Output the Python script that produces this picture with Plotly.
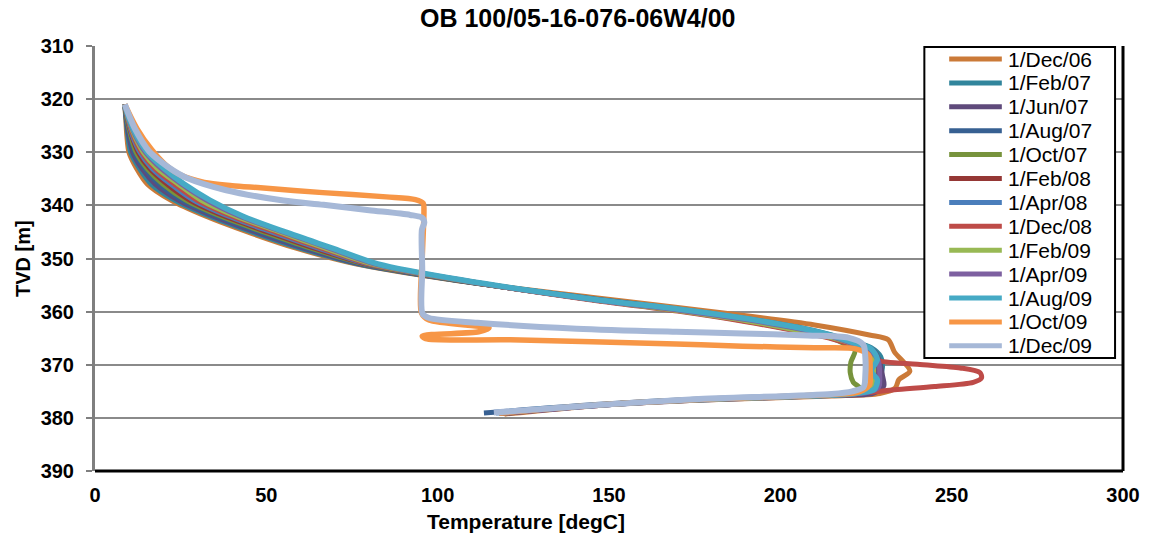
import plotly.graph_objects as go

# ---------------- data: temperature [degC] vs TVD [m] per survey ----------------
dates = ["1/Dec/06", "1/Feb/07", "1/Jun/07", "1/Aug/07", "1/Oct/07", "1/Feb/08",
         "1/Apr/08", "1/Dec/08", "1/Feb/09", "1/Apr/09", "1/Aug/09", "1/Oct/09", "1/Dec/09"]
colors = ["#CB7A38", "#31859C", "#5F4A7B", "#376092", "#77933C", "#953735",
          "#4A7EBB", "#BE4B48", "#98B954", "#7D60A0", "#46AAC5", "#F79646", "#A6B8D7"]
widths = [5, 5, 5, 5, 5, 5, 5, 5, 5, 5, 5.5, 5.5, 6]

dec06_t = [8.7, 9.0, 9.3, 9.9, 12.1, 15.3, 22.1, 32.2, 44.5, 58.4, 76.0, 104.0,
           146.0, 184.0, 210.0, 226.0, 231.5, 233.3, 237.8, 234.6, 233.5, 229.0,
           215.0, 175.0, 146.0, 119.5]
dec06_d = [321, 324, 327, 330, 333, 336, 339, 342, 345, 348, 351, 354,
           357.4, 360.3, 362.5, 364.4, 365.3, 367.6, 371.2, 372.8, 374.4, 375.4,
           375.9, 376.7, 377.7, 379.3]

feb07_t = [8.7, 9.1, 9.6, 10.4, 12.9, 16.4, 23.2, 33.3, 45.7, 59.5, 76.6, 104.3,
           146.0, 170.0, 190.0, 205.0, 215.0, 221.0, 226.5, 229.3, 229.8, 229.0, 228.5, 225.0,
           215.0, 175.0, 146.0, 118.5]
feb07_d = [321, 324, 327, 330, 333, 336, 339, 342, 345, 348, 351, 354,
           357.6, 359.5, 361.3, 362.9, 364.4, 365.6, 366.8, 368.5, 370.5, 372.5, 374.3, 375.2,
           375.7, 376.6, 377.6, 379.1]

jun07_t = [8.7, 9.2, 9.9, 11.0, 13.6, 17.6, 24.3, 34.4, 46.8, 60.6, 77.2, 104.6,
           146.0, 170.0, 190.0, 205.0, 215.0, 221.0, 227.0, 229.0, 229.8, 230.2, 227.0,
           215.0, 175.0, 146.0, 119.0]
jun07_d = [321, 324, 327, 330, 333, 336, 339, 342, 345, 348, 351, 354,
           357.7, 359.6, 361.5, 363.1, 364.6, 365.8, 367.2, 369.5, 372.0, 374.0, 375.4,
           375.8, 376.7, 377.7, 379.2]

aug07_t = [8.7, 9.3, 10.2, 11.5, 14.4, 18.7, 25.4, 35.5, 48.0, 61.6, 77.8, 104.8,
           146.0, 170.0, 190.0, 205.0, 215.0, 221.0, 225.5, 227.2, 227.5, 227.0, 223.0,
           215.0, 175.0, 146.0, 113.5]
aug07_d = [321, 324, 327, 330, 333, 336, 339, 342, 345, 348, 351, 354,
           357.7, 359.6, 361.5, 363.2, 364.7, 365.9, 367.0, 369.0, 372.0, 374.3, 375.3,
           375.6, 376.5, 377.5, 379.1]

oct07_t = [8.7, 9.4, 10.5, 12.0, 15.1, 19.8, 26.5, 36.6, 49.2, 62.7, 78.4, 105.1,
           146.0, 170.0, 190.0, 205.0, 215.0, 219.0, 221.8, 220.6, 220.4, 221.3, 223.2, 220.0,
           215.0, 175.0, 146.0, 118.0]
oct07_d = [321, 324, 327, 330, 333, 336, 339, 342, 345, 348, 351, 354,
           357.8, 359.8, 361.8, 363.6, 365.0, 366.2, 367.3, 369.5, 371.5, 373.3, 374.4, 375.3,
           375.6, 376.6, 377.6, 379.1]

feb08_t = [8.7, 9.6, 10.8, 12.6, 15.9, 21.0, 27.6, 37.7, 50.4, 63.8, 79.0, 105.4,
           146.0, 170.0, 190.0, 205.0, 215.0, 221.0, 226.0, 227.8, 228.0, 227.5, 224.0,
           215.0, 175.0, 146.0, 118.0]
feb08_d = [321, 324, 327, 330, 333, 336, 339, 342, 345, 348, 351, 354,
           357.8, 359.7, 361.6, 363.4, 364.9, 366.1, 367.3, 369.2, 372.0, 374.4, 375.3,
           375.7, 376.6, 377.6, 379.1]

apr08_t = [8.7, 9.7, 11.0, 13.1, 16.6, 22.1, 28.7, 38.8, 51.5, 64.9, 79.6, 105.7,
           146.0, 170.0, 190.0, 205.0, 215.0, 221.0, 225.5, 227.0, 227.3, 226.8, 223.0,
           215.0, 175.0, 146.0, 117.0]
apr08_d = [321, 324, 327, 330, 333, 336, 339, 342, 345, 348, 351, 354,
           357.8, 359.7, 361.6, 363.3, 364.8, 366.0, 367.2, 369.0, 372.0, 374.3, 375.3,
           375.7, 376.6, 377.6, 379.1]

dec08_t = [8.7, 9.8, 11.3, 13.6, 17.4, 23.2, 29.8, 39.9, 52.7, 66.0, 80.2, 106.0,
           146.0, 170.0, 190.0, 205.0, 215.0, 221.0, 225.0, 228.0, 240.0, 252.5, 258.3, 258.7,
           256.3, 245.0, 233.3, 226.0, 215.0, 175.0, 146.0, 118.0]
dec08_d = [321, 324, 327, 330, 333, 336, 339, 342, 345, 348, 351, 354,
           357.9, 359.9, 361.9, 363.7, 365.1, 366.3, 367.4, 369.1, 369.9, 370.6, 371.5, 372.5,
           373.3, 374.1, 374.7, 375.2, 375.7, 376.6, 377.6, 379.1]

feb09_t = [8.7, 9.9, 11.6, 14.1, 18.1, 24.3, 30.9, 41.0, 53.9, 67.0, 80.8, 106.2,
           146.0, 170.0, 190.0, 205.0, 215.0, 221.0, 225.5, 227.0, 227.2, 226.6, 223.0,
           215.0, 175.0, 146.0, 118.0]
feb09_d = [321, 324, 327, 330, 333, 336, 339, 342, 345, 348, 351, 354,
           357.8, 359.8, 361.7, 363.5, 364.9, 366.0, 367.0, 368.5, 371.0, 373.8, 375.3,
           375.7, 376.6, 377.6, 379.1]

apr09_t = [8.7, 10.0, 11.9, 14.7, 19.2, 25.3, 32.5, 42.1, 54.8, 68.1, 81.6, 106.5,
           146.0, 170.0, 190.0, 205.0, 215.0, 221.0, 226.0, 228.6, 229.0, 228.7, 225.0,
           215.0, 175.0, 146.0, 118.0]
apr09_d = [321, 324, 327, 330, 333, 336, 339, 342, 345, 348, 351, 354,
           357.8, 359.7, 361.5, 363.2, 364.7, 366.0, 367.2, 369.3, 372.0, 374.2, 375.3,
           375.7, 376.6, 377.7, 379.1]

aug09_t = [8.7, 10.1, 12.2, 15.2, 20.0, 26.0, 33.5, 43.0, 55.5, 69.0, 82.5, 106.8,
           146.0, 170.0, 190.0, 205.0, 215.0, 221.0, 226.5, 228.3, 226.5, 228.3, 227.5, 223.0,
           215.0, 175.0, 146.0, 117.5]
aug09_d = [321, 324, 327, 330, 333, 336, 339, 342, 345, 348, 351, 354,
           357.7, 359.5, 361.3, 363.0, 364.5, 365.8, 367.0, 369.0, 371.2, 372.8, 374.6, 375.3,
           375.7, 376.6, 377.6, 379.0]

oct09_t = [8.7, 12.2, 16.5, 20.5, 25.0, 31.9, 40.0, 48.3, 66.5, 85.0, 93.5, 95.8, 96.0,
           95.5, 95.3, 97.5, 115.0, 112.0, 95.5, 96.5, 121.2, 169.6, 188.9, 210.0, 222.0,
           225.8, 226.2, 226.0, 223.0, 215.0, 175.0, 146.0, 118.0]
oct09_d = [321, 325.5, 329.5, 332.3, 334.3, 335.7, 336.3, 336.7, 337.6, 338.4, 338.9, 339.6, 341.0,
           350.0, 360.3, 361.6, 363.1, 363.8, 364.6, 365.1, 365.3, 366.1, 366.5, 366.8, 367.0,
           368.2, 371.0, 373.8, 375.1, 375.6, 376.6, 377.6, 379.1]

dec09_t = [8.7, 11.6, 15.9, 19.3, 23.0, 27.0, 38.0, 55.0, 66.7, 80.0, 92.0, 95.4, 96.1,
           95.4, 95.5, 95.6, 97.5, 111.6, 140.6, 169.6, 188.9, 208.0, 219.8, 224.2, 224.8,
           224.8, 224.3, 221.0, 215.0, 175.0, 146.0, 116.4]
dec09_d = [321, 325.5, 329.9, 331.8, 333.5, 334.9, 337.1, 339.1, 339.9, 340.9, 341.8, 342.3, 343.2,
           344.6, 352.0, 360.4, 361.2, 362.1, 363.2, 363.8, 364.1, 364.5, 364.9, 366.2, 368.5,
           372.0, 374.2, 375.0, 375.5, 376.5, 377.6, 379.0]

temps = [dec06_t, feb07_t, jun07_t, aug07_t, oct07_t, feb08_t, apr08_t,
         dec08_t, feb09_t, apr09_t, aug09_t, oct09_t, dec09_t]
depths = [dec06_d, feb07_d, jun07_d, aug07_d, oct07_d, feb08_d, apr08_d,
          dec08_d, feb09_d, apr09_d, aug09_d, oct09_d, dec09_d]

depth_ticks = [310, 320, 330, 340, 350, 360, 370, 380, 390]
temp_ticks = [0, 50, 100, 150, 200, 250, 300]

# ---------------- layout geometry (pixels) ----------------
W, H = 1152, 535
L, R, T, B = 95, 1130, 46, 471
FONT = "Arial, Liberation Sans, sans-serif"


def fx(p):
    return (p - L) / (R - L)


def fy(p):
    return (B - p) / (B - T)


fig = go.Figure()
for name, color, lw, t, d in zip(dates, colors, widths, temps, depths):
    fig.add_trace(go.Scatter(
        x=t, y=d, mode="lines", name=name, showlegend=False,
        line=dict(color=color, width=lw, shape="spline", smoothing=0.8),
        hoverinfo="x+y+name"))

shapes = [
    # plot-area frame: black right and bottom edges
    dict(type="line", xref="paper", yref="paper", x0=0, x1=1, y0=0, y1=0,
         line=dict(color="black", width=3)),
    dict(type="line", xref="paper", yref="paper", x0=1, x1=1, y0=0, y1=1,
         line=dict(color="black", width=3)),
    # legend box
    dict(type="rect", xref="paper", yref="paper",
         x0=fx(930), x1=fx(1122), y0=fy(358), y1=fy(47),
         line=dict(color="black", width=2), fillcolor="white"),
]
annotations = []
row0, row_step = 59.0, 23.9
for i, (name, color) in enumerate(zip(dates, colors)):
    yc = row0 + i * row_step
    shapes.append(dict(type="line", xref="paper", yref="paper",
                       x0=fx(955), x1=fx(1008), y0=fy(yc), y1=fy(yc),
                       line=dict(color=color, width=5)))
    annotations.append(dict(text=name, xref="paper", yref="paper",
                            x=fx(1012), y=fy(yc), xanchor="left", yanchor="middle",
                            showarrow=False, font=dict(family=FONT, size=21, color="black")))

annotations += [
    dict(text="<b>OB 100/05-16-076-06W4/00</b>", xref="paper", yref="paper",
         x=fx(581), y=fy(18), xanchor="center", yanchor="middle", showarrow=False,
         font=dict(family=FONT, size=25, color="black")),
    dict(text="<b>Temperature [degC]</b>", xref="paper", yref="paper",
         x=fx(529), y=fy(521), xanchor="center", yanchor="middle", showarrow=False,
         font=dict(family=FONT, size=21, color="black")),
    dict(text="<b>TVD [m]</b>", xref="paper", yref="paper", textangle=-90,
         x=fx(22), y=0.5, xanchor="center", yanchor="middle", showarrow=False,
         font=dict(family=FONT, size=20, color="black")),
]

fig.update_layout(
    width=W, height=H,
    margin=dict(l=L, r=W - R, t=T, b=H - B, pad=0),
    paper_bgcolor="white", plot_bgcolor="white",
    font=dict(family=FONT, color="black"),
    showlegend=False,
    shapes=shapes, annotations=annotations,
    xaxis=dict(range=[0, 300], tickvals=temp_ticks, showgrid=False, zeroline=False,
               showline=False, ticks="", ticklabelstandoff=10,
               tickfont=dict(family=FONT, size=20, color="black", weight="bold")),
    yaxis=dict(range=[390, 310], tickvals=depth_ticks, showgrid=True,
               gridcolor="#8A8A8A", gridwidth=2, zeroline=False,
               showline=True, linecolor="#7F7F7F", linewidth=3,
               ticks="outside", ticklen=6, tickwidth=2, tickcolor="#7F7F7F",
               ticklabelstandoff=8,
               tickfont=dict(family=FONT, size=20, color="black", weight="bold")),
)

fig.write_html("out.html")
